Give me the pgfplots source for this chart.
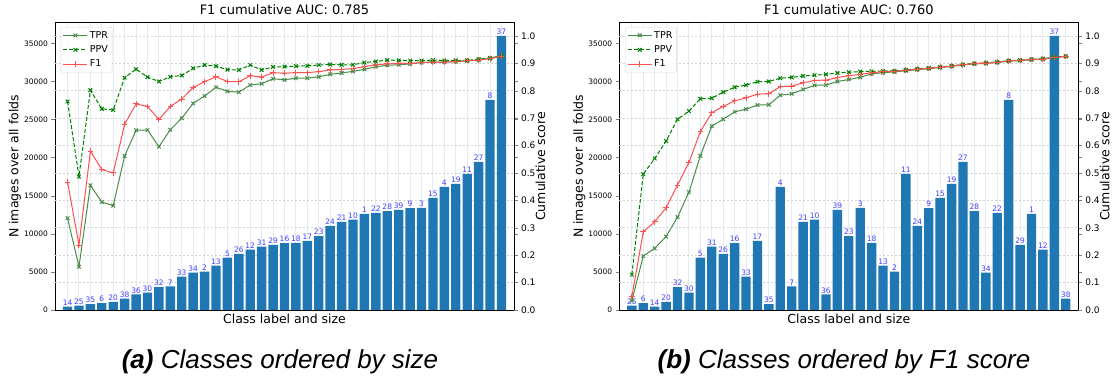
\documentclass[border=0pt]{standalone}
\usepackage{pgfplots}
\pgfplotsset{compat=1.18}
\usepackage{pgfplotstable}
\usepackage{fontspec}
\setmainfont{DejaVu Sans}
\newfontfamily\capfont{Liberation Sans}

\definecolor{barblue}{HTML}{1F77B4}
\definecolor{tprc}{HTML}{4A8C4A}
\definecolor{ppvc}{HTML}{008000}
\definecolor{f1c}{HTML}{FF5050}
\definecolor{lblc}{HTML}{4040FF}
\definecolor{vgrid}{HTML}{E3ECF5}

\pgfplotstableread{
x y lab tpr ppv f1
0 440 14 .335 .761 .467
1 565 25 .158 .487 .237
2 770 35 .455 .802 .580
3 910 6 .394 .734 .513
4 1050 20 .381 .730 .500
5 1490 38 .562 .848 .678
6 2040 36 .656 .879 .752
7 2270 30 .657 .850 .743
8 2990 32 .596 .834 .695
9 3090 7 .658 .851 .743
10 4375 33 .700 .856 .770
11 4900 34 .754 .882 .812
12 5030 2 .781 .894 .833
13 5820 13 .813 .890 .851
14 6860 5 .798 .877 .834
15 7350 26 .795 .876 .833
16 7920 12 .821 .894 .855
17 8300 31 .826 .876 .850
18 8530 29 .844 .887 .866
19 8790 16 .840 .888 .864
20 8800 18 .846 .890 .866
21 9070 17 .846 .891 .866
22 9710 23 .851 .894 .870
23 11025 24 .860 .896 .876
24 11560 21 .865 .895 .878
25 11850 10 .871 .895 .881
26 12600 1 .878 .903 .888
27 12730 22 .888 .907 .895
28 12990 28 .893 .912 .898
29 13125 39 .895 .911 .900
30 13380 9 .898 .910 .900
31 13400 3 .903 .910 .903
32 14700 15 .905 .912 .905
33 16150 4 .905 .911 .905
34 16540 19 .906 .911 .907
35 17850 11 .909 .911 .910
36 19425 27 .912 .915 .912
37 27560 8 .918 .920 .917
38 35960 37 .927 .927 .926
}\dataA

\pgfplotstableread{
x y lab tpr ppv f1
0 565 25 .034 .129 .049
1 910 6 .197 .496 .285
2 440 14 .225 .553 .322
3 1050 20 .268 .617 .373
4 2990 32 .339 .696 .456
5 2270 30 .430 .726 .539
6 6860 5 .563 .771 .651
7 8300 31 .671 .773 .720
8 7350 26 .696 .795 .743
9 8790 16 .723 .813 .763
10 4375 33 .733 .821 .774
11 9070 17 .748 .833 .788
12 770 35 .749 .834 .789
13 16150 4 .784 .846 .815
14 3090 7 .789 .849 .817
15 11560 21 .805 .854 .829
16 11850 10 .820 .857 .838
17 2040 36 .821 .860 .839
18 13125 39 .834 .865 .848
19 9710 23 .841 .868 .855
20 13400 3 .849 .870 .860
21 8800 18 .862 .871 .866
22 5820 13 .866 .872 .869
23 5030 2 .869 .873 .871
24 17850 11 .873 .876 .875
25 11025 24 .877 .880 .879
26 13380 9 .881 .883 .882
27 14700 15 .885 .887 .886
28 16540 19 .889 .891 .890
29 19425 27 .894 .896 .895
30 12990 28 .898 .900 .899
31 4900 34 .900 .902 .901
32 12730 22 .903 .905 .904
33 27560 8 .908 .910 .909
34 8530 29 .910 .912 .911
35 12600 1 .913 .915 .914
36 7920 12 .915 .917 .916
37 35960 37 .921 .923 .922
38 1490 38 .925 .926 .925
}\dataB

\pgfplotsset{
  base/.style={scale only axis, width=459pt, height=287.3pt,
    xmin=-1.1, xmax=39.1, anchor=south west,
    /pgf/number format/assume math mode=true,
    tick align=outside, major tick length=3.5pt,
    axis line style={line width=0.8pt}},
  bars/.style={base, ymin=0, ymax=37700,
    scaled y ticks=false,
    ytick={0,5000,10000,15000,20000,25000,30000,35000},
    yticklabel style={font=\fontsize{7.5}{9}\selectfont, /pgf/number format/1000 sep={}},
    xtick={0,...,38}, xticklabels={},
    xmajorgrids, x grid style={vgrid, line width=1pt},
    xtick style={draw=none},
    extra y ticks={3595.6,7191.2,10786.8,14382.4,17978,21573.6,25169.2,28764.8,32360.4,35956},
    extra y tick labels={},
    extra y tick style={ymajorgrids=true, major tick length=0pt},
    y grid style={gray!35, dash pattern=on 2pt off 2pt, line width=0.6pt},
    title style={font=\fontsize{13}{15}\selectfont, at={(0.5,1)}, anchor=south, yshift=1pt, inner sep=1pt},
    xlabel={Class label and size},
    xlabel style={font=\fontsize{12.5}{14}\selectfont, at={(axis description cs:0.5,0)}, anchor=center, yshift=-9pt},
    ylabel={N images over all folds},
    ylabel style={font=\fontsize{12.5}{14}\selectfont, at={(axis description cs:-0.0871,0.5)}, anchor=center}},
  lines/.style={base, ymin=0, ymax=1.0485,
    axis y line*=right, axis x line=none,
    ytick={0,0.1,0.2,0.3,0.4,0.5,0.6,0.7,0.8,0.9,1.0},
    yticklabel style={font=\fontsize{9}{11}\selectfont, /pgf/number format/.cd, fixed, fixed zerofill, precision=1},
    ylabel={Cumulative score},
    ylabel style={font=\fontsize{12.5}{14}\selectfont, at={(axis description cs:1.0575,0.5)}, anchor=center},
    legend style={at={(0.0125,0.985)}, anchor=north west, font=\fontsize{9.5}{11}\selectfont,
      draw=gray!30, rounded corners=2pt, fill=white, fill opacity=0.8, text opacity=1,
      inner sep=2pt, row sep=2pt},
    legend cell align=left,
    legend image code/.code={\draw[mark repeat=2,mark phase=2,##1] plot coordinates {(0pt,0pt) (12pt,0pt) (24pt,0pt)};}},
  barplot/.style={ybar, bar width=0.82, bar shift=0pt, fill=barblue, draw=none,
    nodes near coords, point meta=explicit symbolic,
    every node near coord/.append style={font=\fontsize{7.5}{8.5}\selectfont, text=lblc, inner sep=1pt, anchor=south}},
  tprline/.style={tprc, line width=1pt, mark=x, mark size=2.6pt, mark options={solid}},
  ppvline/.style={ppvc, line width=1pt, dash pattern=on 4pt off 2pt, mark=x, mark size=2.6pt, mark options={solid}},
  f1line/.style={f1c, line width=1pt, mark=+, mark size=2.8pt, mark options={solid}},
}

\begin{document}
\begin{tikzpicture}
\useasboundingbox (0,0) rectangle (1117pt,383pt);
% panel (a)
\begin{axis}[bars, at={(55pt,73pt)}, title={F1 cumulative AUC: 0.785}]
\addplot[barplot] table[x=x, y=y, meta=lab]{\dataA};
\end{axis}
\begin{axis}[lines, at={(55pt,73pt)}]
\addplot[tprline] table[x=x, y=tpr]{\dataA};
\addplot[ppvline] table[x=x, y=ppv]{\dataA};
\addplot[f1line] table[x=x, y=f1]{\dataA};
\legend{TPR, PPV, F1}
\end{axis}
% panel (b)
\begin{axis}[bars, at={(619.3pt,73pt)}, title={F1 cumulative AUC: 0.760}]
\addplot[barplot] table[x=x, y=y, meta=lab]{\dataB};
\end{axis}
\begin{axis}[lines, at={(619.3pt,73pt)}]
\addplot[tprline] table[x=x, y=tpr]{\dataB};
\addplot[ppvline] table[x=x, y=ppv]{\dataB};
\addplot[f1line] table[x=x, y=f1]{\dataB};
\legend{TPR, PPV, F1}
\end{axis}
\node[font={\capfont\itshape\fontsize{26}{30}\selectfont}] at (280pt,21pt) {\textbf{(a)} Classes ordered by size};
\node[font={\capfont\itshape\fontsize{26}{30}\selectfont}] at (844pt,21pt) {\textbf{(b)} Classes ordered by F1 score};
\end{tikzpicture}
\end{document}
